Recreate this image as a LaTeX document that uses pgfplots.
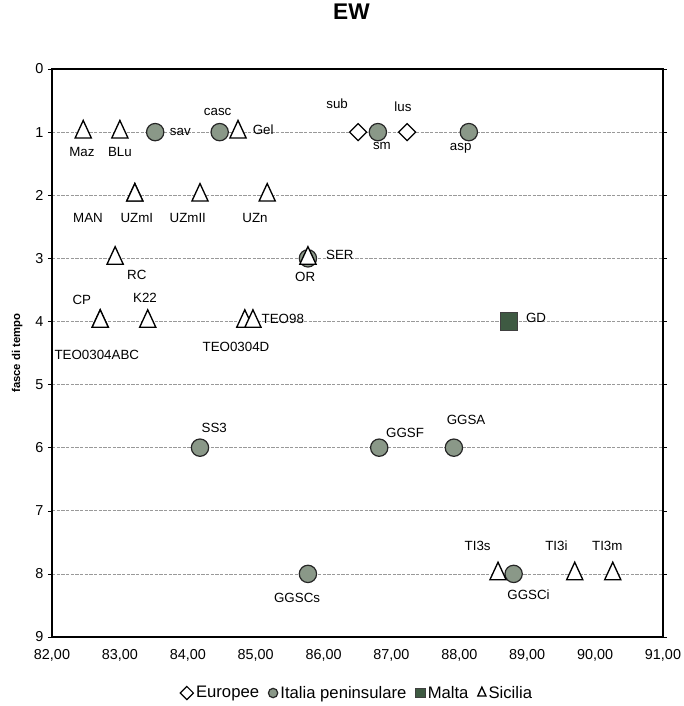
\documentclass[border=0pt]{standalone}
\usepackage{fontspec}
\setmainfont{Liberation Sans}
\usepackage{pgfplots}
\pgfplotsset{compat=1.18}
\definecolor{itgreen}{RGB}{138,152,136}
\definecolor{maltag}{RGB}{62,90,66}
\tikzset{lab/.style={font=\fontsize{10}{12}\selectfont, inner sep=0pt, anchor=center}}
\begin{document}
\begin{tikzpicture}
\begin{axis}[
  at={(0,0)}, anchor=south west,
  width=458.25pt, height=426pt, scale only axis,
  xmin=82, xmax=91, ymin=0, ymax=9, y dir=reverse,
  xtick={82,83,...,91}, ytick={0,1,...,9},
  /pgf/number format/assume math mode=true,
  x tick label style={/pgf/number format/.cd, fixed, fixed zerofill, precision=2, use comma, /tikz/.cd, yshift=-3pt},
  tick label style={font=\fontsize{10.8}{13}\selectfont},
  xtick style={draw=none},
  ytick style={black, thin}, tick align=outside, major tick length=3pt,
  ymajorgrids, major grid style={gray!80, line width=0.5pt, dash pattern=on 2.5pt off 1pt},
  axis line style={black, line width=1.1pt},
  title={EW},
  title style={font=\bfseries\fontsize{17}{20}\selectfont, at={(0.49,1.086)}, anchor=center},
  ylabel={fasce di tempo},
  ylabel style={font=\bfseries\fontsize{8.5}{10}\selectfont, at={(axis description cs:-0.057,0.5)}, anchor=center},
  legend columns=4,
  legend style={draw=none, at={(0.5,-0.0986)}, anchor=center, font=\fontsize{12.5}{15}\selectfont,
    /tikz/every even column/.append style={column sep=5pt}},
  legend image post style={mark size=3.5pt},
]
% Europee
\addplot[only marks, mark=square*, mark size=4.5pt, mark options={rotate=45, fill=white, draw=black, line width=0.9pt}]
  coordinates {(86.51,1) (87.23,1)};
\addlegendentry{Europee}
% Italia peninsulare
\addplot[only marks, mark=*, mark size=6.5pt, mark options={fill=itgreen, draw=black!85, line width=0.9pt}]
  coordinates {(83.52,1) (84.47,1) (86.80,1) (88.14,1) (85.77,3) (84.18,6) (86.82,6) (87.92,6) (85.77,8) (88.80,8)};
\addlegendentry{Italia peninsulare}
% Malta
\addplot[only marks, mark=square*, mark size=6.5pt, mark options={fill=maltag, draw=black!75, line width=0.6pt}]
  coordinates {(88.73,4)};
\addlegendentry{Malta}
% Sicilia
\addplot[only marks, mark=triangle*, mark size=7pt, mark options={yscale=1.25, fill=white, draw=black, line width=1pt}]
  coordinates {(82.46,1) (83.00,1) (84.74,1) (83.22,2) (83.22,2) (84.18,2) (85.17,2) (82.93,3) (85.77,3)
  (82.71,4) (82.71,4) (83.41,4) (84.84,4) (84.96,4) (88.57,8) (89.70,8) (90.26,8)};
\addlegendentry{Sicilia}
% labels
\node[lab] at (axis cs:82.44,1.31) {Maz};
\node[lab] at (axis cs:83.00,1.31) {BLu};
\node[lab] at (axis cs:83.89,1.00) {sav};
\node[lab] at (axis cs:84.44,0.68) {casc};
\node[lab] at (axis cs:85.11,0.97) {Gel};
\node[lab] at (axis cs:86.20,0.55) {sub};
\node[lab] at (axis cs:86.86,1.22) {sm};
\node[lab] at (axis cs:87.17,0.59) {lus};
\node[lab] at (axis cs:88.02,1.25) {asp};
\node[lab] at (axis cs:82.53,2.36) {MAN};
\node[lab] at (axis cs:83.25,2.36) {UZmI};
\node[lab] at (axis cs:84.00,2.36) {UZmII};
\node[lab] at (axis cs:84.99,2.36) {UZn};
\node[lab] at (axis cs:83.25,3.27) {RC};
\node[lab] at (axis cs:85.73,3.30) {OR};
\node[lab] at (axis cs:86.24,2.95) {SER};
\node[lab] at (axis cs:82.44,3.66) {CP};
\node[lab] at (axis cs:83.37,3.63) {K22};
\node[lab] at (axis cs:82.66,4.53) {TEO0304ABC};
\node[lab] at (axis cs:84.71,4.41) {TEO0304D};
\node[lab] at (axis cs:85.40,3.96) {TEO98};
\node[lab] at (axis cs:89.13,3.95) {GD};
\node[lab] at (axis cs:84.39,5.69) {SS3};
\node[lab] at (axis cs:87.20,5.76) {GGSF};
\node[lab] at (axis cs:88.10,5.56) {GGSA};
\node[lab] at (axis cs:85.61,8.38) {GGSCs};
\node[lab] at (axis cs:88.27,7.56) {TI3s};
\node[lab] at (axis cs:89.02,8.33) {GGSCi};
\node[lab] at (axis cs:89.43,7.55) {TI3i};
\node[lab] at (axis cs:90.18,7.55) {TI3m};
\end{axis}
\pgfresetboundingbox
\path (-39pt,-51.75pt) rectangle (473.25pt,477.75pt);
\end{tikzpicture}
\end{document}
